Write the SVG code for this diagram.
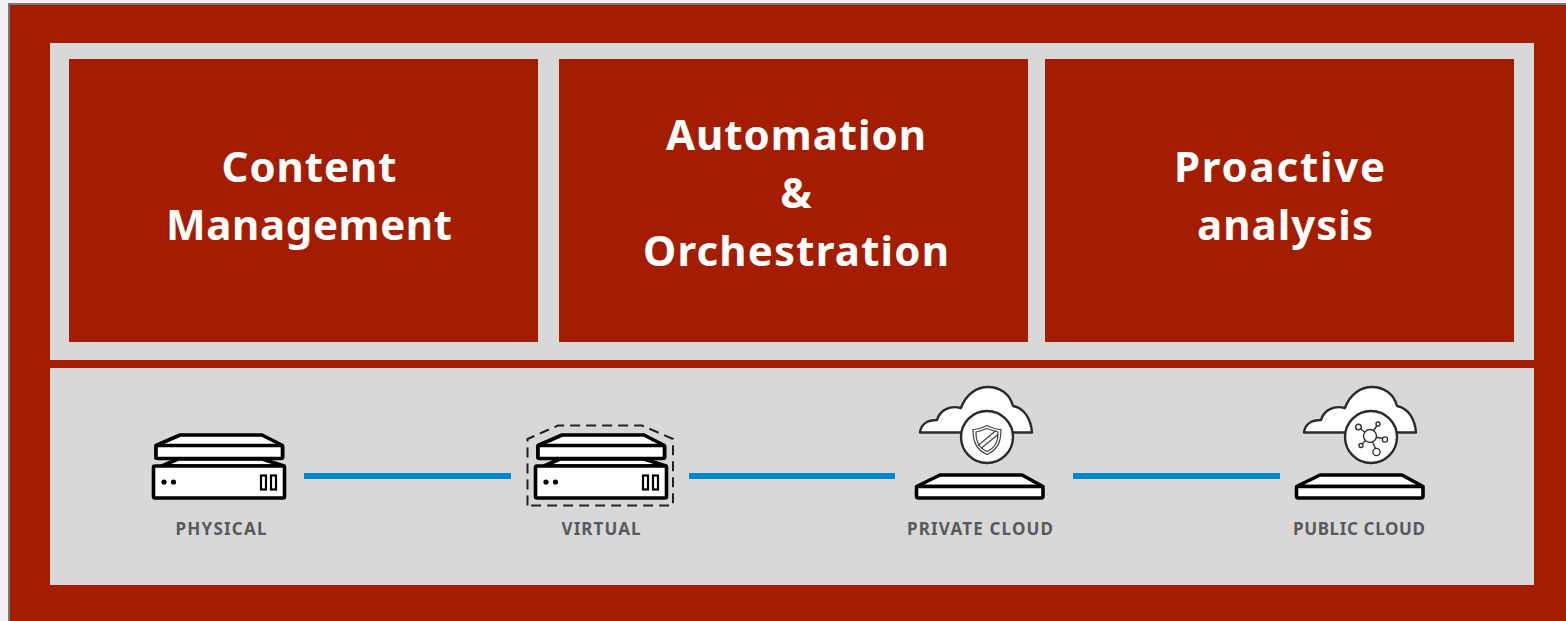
<svg xmlns="http://www.w3.org/2000/svg" width="1566" height="621" viewBox="0 0 1566 621">
<style>
.title{font-family:"Noto Sans","Liberation Sans",sans-serif;font-weight:700;font-size:42px;fill:#fff;text-anchor:middle}
.label{font-family:"Noto Sans","Liberation Sans",sans-serif;font-weight:700;font-size:17px;fill:#58595b;text-anchor:middle}
.box{fill:#a51d00}
.panel{fill:#d8d8d8}
.k{fill:#fff;stroke:#000;stroke-width:3.600;stroke-linejoin:round}
.c{fill:#fff;stroke:#2a2a2a;stroke-width:2.400;stroke-linejoin:round}
.t{fill:none;stroke:#444;stroke-width:1.200}
.link{stroke:#0088ce;stroke-width:6;fill:none}
</style>
<defs>
<g id="plate">
<path class="k" d="M180 435H262L282.500 445.500V458H156V445.500Z"/>
<rect class="k" x="156" y="445.500" width="126.500" height="13" rx="2"/>
</g>
<g id="server">
<path class="k" d="M162 466L178 459H262L284 466Z"/>
<rect class="k" x="153.500" y="466" width="131" height="32" rx="1.500"/>
<circle cx="164" cy="482" r="2.600"/>
<circle cx="173.500" cy="482" r="2.600"/>
<rect x="261" y="475.500" width="5" height="14" fill="#fff" stroke="#000" stroke-width="2.200"/>
<rect x="271" y="475.500" width="5" height="14" fill="#fff" stroke="#000" stroke-width="2.200"/>
</g>
<path id="cloud" class="c" d="M920 432.500C921 424 928 420 937 420C940 410 950 405 961 408C966 394 977 387 988 387C1000 387 1010 394 1013 406C1024 408 1031 419 1032 432.500Z"/>
</defs>
<rect width="1566" height="621" fill="#f0f0f0"/>
<rect x="9" y="4" width="1570" height="630" fill="#a51d00" stroke="#757575" stroke-width="2"/>
<rect class="panel" x="50" y="43" width="1484" height="317"/>
<rect class="panel" x="50" y="368" width="1484" height="217"/>
<g id="connectors">
<path class="link" d="M304 476H511"/>
<path class="link" d="M689 476H895"/>
<path class="link" d="M1073 476H1280"/>
</g>
<g id="content-management">
<rect class="box" x="69" y="59" width="469" height="283"/>
<text class="title" x="309" y="182" textLength="175">Content</text>
<text class="title" x="309" y="240" textLength="286">Management</text>
</g>
<g id="automation-orchestration">
<rect class="box" x="559" y="59" width="469" height="283"/>
<text class="title" x="796" y="150" textLength="260">Automation</text>
<text class="title" x="796" y="208">&amp;</text>
<text class="title" x="796" y="266" textLength="306">Orchestration</text>
</g>
<g id="proactive-analysis">
<rect class="box" x="1045" y="59" width="469" height="283"/>
<text class="title" x="1279.500" y="182" textLength="211">Proactive</text>
<text class="title" x="1285" y="240" textLength="176">analysis</text>
</g>
<g id="physical">
<use href="#server"/>
<use href="#plate"/>
<text class="label" x="221" y="535" textLength="91">PHYSICAL</text>
</g>
<g id="virtual">
<use href="#server" x="382"/>
<use href="#plate" x="382"/>
<path d="M527.500 505.500V439L558 425.500H642L673 439V505.500Z" fill="none" stroke="#222" stroke-width="2" stroke-dasharray="10 6"/>
<text class="label" x="601" y="535" textLength="79">VIRTUAL</text>
</g>
<g id="private-cloud">
<use href="#cloud"/>
<circle class="c" cx="987" cy="437" r="26"/>
<g transform="translate(0 2.500)">
<path class="t" d="M987 423C981 426 978 427 973 427C973 439 976 447 987 452C998 447 1001 439 1001 427C996 427 993 426 987 423Z"/>
<path class="t" d="M987 426C982 428 980 429 976 429.500C976 440 979 445 987 449C995 445 998 440 998 429.500C994 429 992 428 987 426Z"/>
<path class="t" d="M978 443L996 428M981 446L998 432"/>
</g>
<path class="k" d="M940 475H1022L1043 486.500H916.500Z"/>
<rect class="k" x="916.500" y="486.500" width="126.500" height="11.500" rx="2"/>
<text class="label" x="980" y="535" textLength="146">PRIVATE CLOUD</text>
</g>
<g id="public-cloud">
<use href="#cloud" x="384"/>
<circle class="c" cx="1371" cy="437" r="26"/>
<g fill="#fff" stroke="#333" stroke-width="1.400">
<path d="M1370 436L1358 427M1370 436L1378 424M1370 436L1385 439M1370 436L1361 445M1370 436L1377 452"/>
<circle cx="1370" cy="436" r="6.500"/>
<circle cx="1358.500" cy="427" r="2.800"/>
<circle cx="1378" cy="424" r="2"/>
<circle cx="1385" cy="439.500" r="2.600"/>
<circle cx="1361" cy="445.500" r="2"/>
<circle cx="1376.500" cy="452" r="3.600"/>
</g>
<path class="k" d="M1320 475H1402L1423 486.500H1296.500Z"/>
<rect class="k" x="1296.500" y="486.500" width="126.500" height="11.500" rx="2"/>
<text class="label" x="1359" y="535" textLength="132">PUBLIC CLOUD</text>
</g>
</svg>
